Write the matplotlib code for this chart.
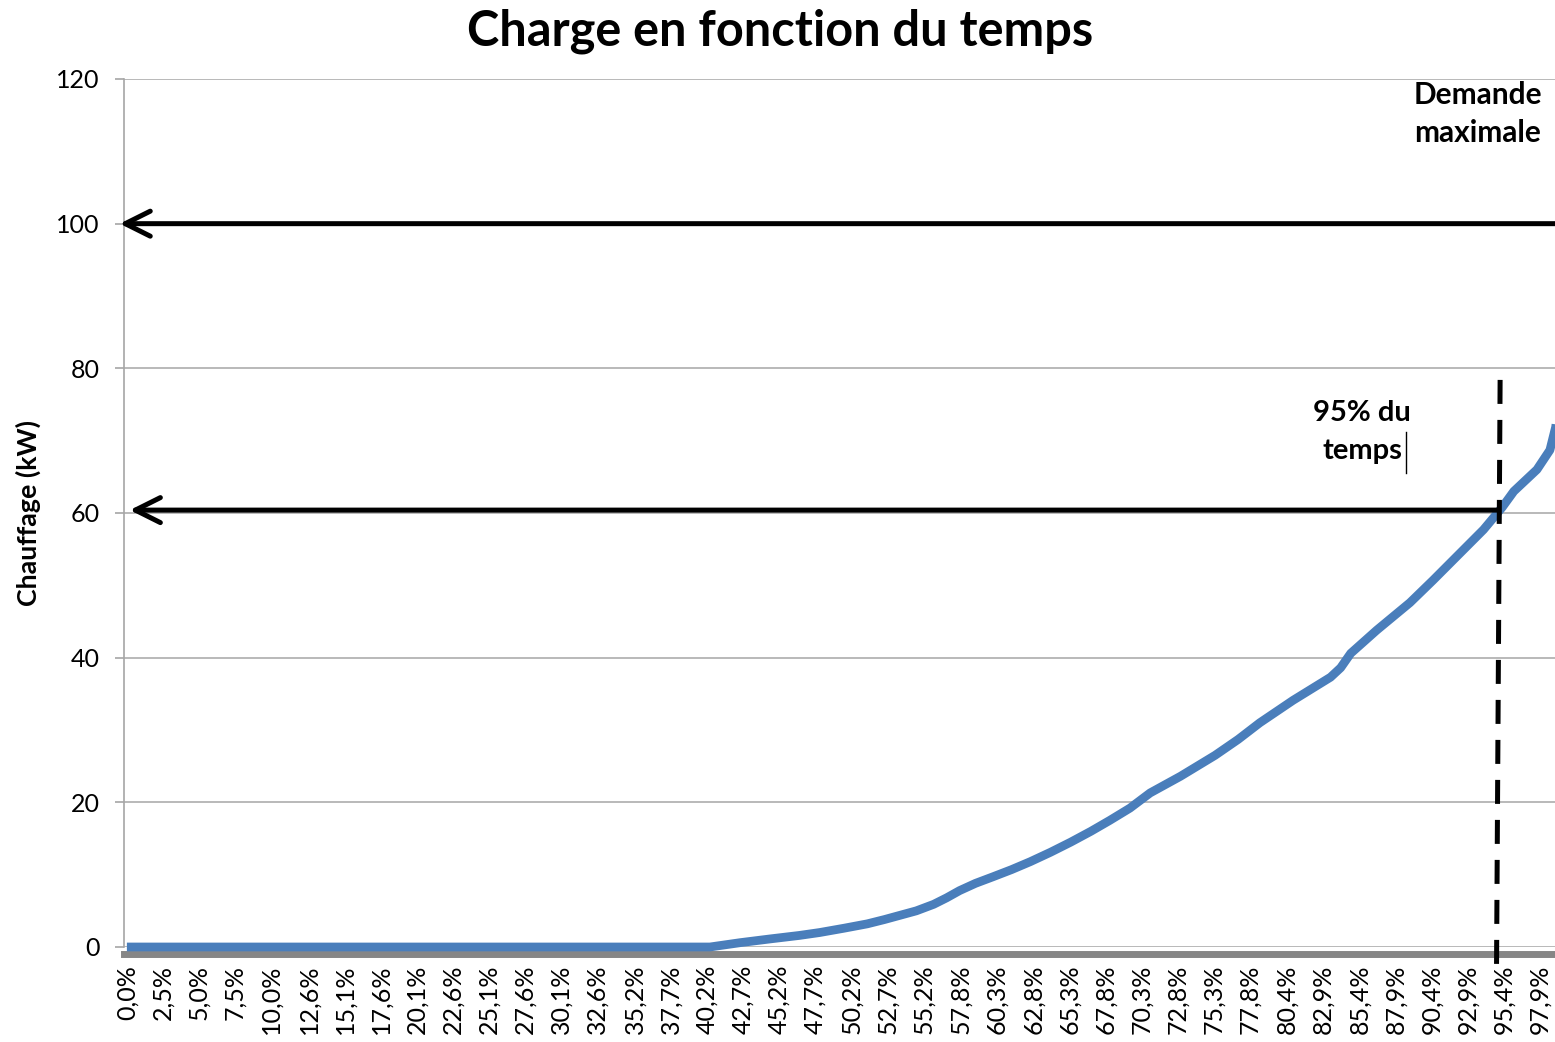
import matplotlib
matplotlib.use("Agg")
import matplotlib.pyplot as plt

plt.rcParams['font.family'] = ['Lato', 'DejaVu Sans']

# ---- data ----
time_pct = [0, 40.4, 42.5, 44.5, 46.6, 48.0, 49.7, 51.3, 52.5, 53.6, 54.7, 55.9,
            56.8, 57.7, 58.8, 60.0, 61.3, 62.6, 64.0, 65.4, 66.8, 68.1, 69.5,
            70.9, 73.0, 75.4, 77.0, 78.5, 80.8, 83.4, 84.1, 84.8, 86.6,
            88.9, 90.5, 92.4, 94.0, 95.3, 96.1, 97.7, 98.6, 99.0, 99.5, 100.0]
load_kw = [0, 0, 0.6, 1.1, 1.6, 2.0, 2.6, 3.2, 3.8, 4.4, 5.0, 5.9,
           6.8, 7.8, 8.8, 9.7, 10.7, 11.8, 13.1, 14.5, 16.0, 17.5, 19.2,
           21.3, 23.6, 26.5, 28.7, 31.0, 34.1, 37.3, 38.6, 40.6, 43.8,
           47.6, 50.7, 54.5, 57.7, 60.8, 63.0, 66.0, 68.7, 71.9, 80.0, 100.0]
x_labels = ["0,0%", "2,5%", "5,0%", "7,5%", "10,0%", "12,6%", "15,1%", "17,6%",
            "20,1%", "22,6%", "25,1%", "27,6%", "30,1%", "32,6%", "35,2%", "37,7%",
            "40,2%", "42,7%", "45,2%", "47,7%", "50,2%", "52,7%", "55,2%", "57,8%",
            "60,3%", "62,8%", "65,3%", "67,8%", "70,3%", "72,8%", "75,3%", "77,8%",
            "80,4%", "82,9%", "85,4%", "87,9%", "90,4%", "92,9%", "95,4%", "97,9%"]
y_ticks = [0, 20, 40, 60, 80, 100, 120]
max_demand = 100
p95_load = 60
p95_time = 95

W, H = 1555, 1042
fig = plt.figure(figsize=(W / 100, H / 100), dpi=100)
ax = fig.add_axes([124 / W, 95 / H, 1449 / W, 868 / H])

for s in ('top', 'right'):
    ax.spines[s].set_visible(False)
ax.spines['left'].set_color('#a6a6a6')
ax.spines['left'].set_linewidth(1.2)
ax.spines['bottom'].set_color('#868686')
ax.spines['bottom'].set_linewidth(5)
ax.spines['bottom'].set_position(('outward', 4.7))

ax.set_xlim(-0.2, 100.2)
ax.set_ylim(0, 120)

x_pos = [float(s.rstrip('%').replace(',', '.')) for s in x_labels]
ax.set_xticks(x_pos)
ax.set_xticklabels(x_labels, rotation=90, fontsize=18, ha='center', va='top')
ax.set_yticks(y_ticks)
ax.set_yticklabels([str(v) for v in y_ticks], fontsize=18)

ax.tick_params(axis='x', length=0, pad=8)
ax.tick_params(axis='y', length=6.5, width=1.2, color='#a6a6a6', pad=11)

ax.grid(axis='y', color='#a6a6a6', lw=1.1)
ax.set_axisbelow(True)

# curve
ax.plot(time_pct, load_kw, color='#4A7EBB', lw=6.3, solid_joinstyle='round',
        solid_capstyle='butt', clip_on=False, zorder=5)

# arrows
ax.annotate('', xy=(-0.5, max_demand), xytext=(101, max_demand),
            arrowprops=dict(arrowstyle='->', lw=3.6, color='black',
                            mutation_scale=45, shrinkA=0, shrinkB=0),
            annotation_clip=False, zorder=6)
ax.annotate('', xy=(0.2, p95_load + 0.4), xytext=(p95_time, p95_load + 0.4),
            arrowprops=dict(arrowstyle='->', lw=3.6, color='black',
                            mutation_scale=45, shrinkA=0, shrinkB=0),
            annotation_clip=False, zorder=6)

# dashed 95% line
dl, = ax.plot([p95_time + 0.15, p95_time - 0.1], [78.4, -3.2], color='black',
              lw=3.6, clip_on=False, zorder=7)
dl.set_dashes((4.8, 3.2))

ax.text(93.6, 115.2, "Demande\nmaximale", ha='center', va='center',
        fontsize=21.5, fontweight='bold', linespacing=1.45)
ax.text(85.6, 71.2, "95% du\ntemps", ha='center', va='center',
        fontsize=21, fontweight='bold', linespacing=1.55)
ax.plot([88.6, 88.6], [71.2, 65.5], color='black', lw=1.0, zorder=4)

fig.text(780 / W, 1 - 45 / H, "Charge en fonction du temps", ha='center',
         va='baseline', fontsize=35, fontweight='bold')
fig.text(28 / W, 1 - 513 / H, "Chauffage (kW)", ha='center', va='center',
         rotation=90, fontsize=19.3, fontweight='bold')

fig.savefig("out.png", dpi=100)
